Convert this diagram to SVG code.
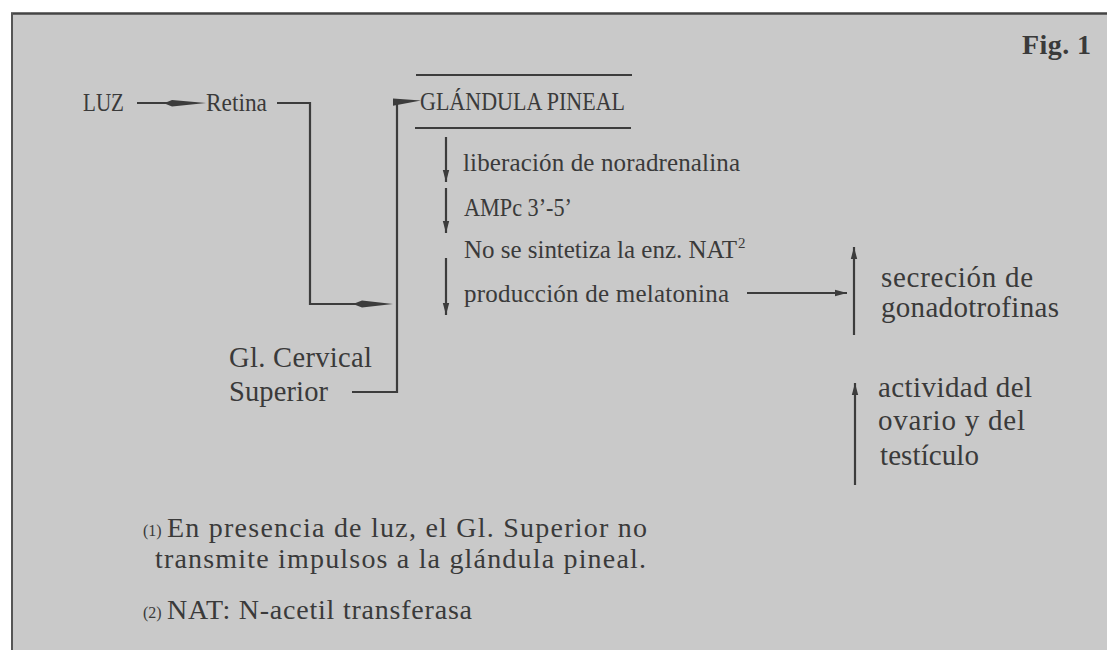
<svg xmlns="http://www.w3.org/2000/svg" width="1107" height="650" viewBox="0 0 1107 650">
<style>
text{font-family:"Liberation Serif","Times New Roman",serif;fill:#3a3a3a}
.m{font-size:25px}
.r{font-size:29px}
.l{font-size:28.5px}
.f{font-size:28px}
.s{font-size:16px}
.ln{stroke:#3c3c3c;stroke-width:2.2;fill:none}
.hd{fill:#3c3c3c}
</style>
<defs>
<marker id="ah" viewBox="0 0 12 8" refX="12" refY="4" markerWidth="12" markerHeight="8" markerUnits="userSpaceOnUse" orient="auto">
<path d="M0,0.8 L12,4 L0,7.2 Z" fill="#3c3c3c"/>
</marker>
</defs>
<rect x="0" y="0" width="1107" height="650" fill="#ffffff"/>
<rect x="12" y="13" width="1095" height="637" fill="#c9c9c9"/>
<line x1="11" y1="13.5" x2="1107" y2="13.5" stroke="#444" stroke-width="2.5"/>
<line x1="12" y1="13" x2="12" y2="650" stroke="#555" stroke-width="2"/>

<g id="fig-label"><text x="1022" y="54" style="font-size:28px;font-weight:bold" textLength="69">Fig. 1</text></g>

<g id="luz"><text class="m" x="83" y="111" textLength="41" lengthAdjust="spacingAndGlyphs">LUZ</text></g>
<g id="retina"><text class="m" x="206" y="111" textLength="61" lengthAdjust="spacingAndGlyphs">Retina</text></g>
<g id="glandula-pineal">
<line class="ln" x1="416" y1="75" x2="632" y2="75"/>
<text class="m" x="420" y="110" textLength="205" lengthAdjust="spacingAndGlyphs">GLÁNDULA PINEAL</text>
<line class="ln" x1="415" y1="128" x2="631" y2="128"/>
</g>
<g id="liberacion"><text class="m" x="463" y="171" textLength="277">liberación de noradrenalina</text></g>
<g id="ampc"><text class="m" x="464" y="216" textLength="108" lengthAdjust="spacingAndGlyphs">AMPc 3’-5’</text></g>
<g id="nat"><text class="m" x="464" y="258" textLength="273">No se sintetiza la enz. NAT</text><text x="738" y="248" style="font-size:15px">2</text></g>
<g id="melatonina"><text class="m" x="464" y="302" textLength="265">producción de melatonina</text></g>
<g id="gl-cervical">
<text class="l" x="229" y="367" textLength="143">Gl. Cervical</text>
<text class="l" x="229" y="401" textLength="99">Superior</text>
</g>
<g id="gonadotrofinas">
<text class="r" x="881" y="287" textLength="152">secreción de</text>
<text class="r" x="881" y="317" textLength="178">gonadotrofinas</text>
</g>
<g id="ovario">
<text class="r" x="878" y="397" textLength="154">actividad del</text>
<text class="r" x="878" y="430" textLength="147">ovario y del</text>
<text class="r" x="880" y="465" textLength="99">testículo</text>
</g>
<g id="notes">
<text class="s" x="143" y="536">(1)</text>
<text class="f" x="167" y="537" textLength="480">En presencia de luz, el Gl. Superior no</text>
<text class="f" x="155" y="568" textLength="491">transmite impulsos a la glándula pineal.</text>
<text class="s" x="143" y="618">(2)</text>
<text class="f" x="167" y="619" textLength="305">NAT: N-acetil transferasa</text>
</g>

<g id="connectors">
<line class="ln" x1="137" y1="103" x2="170" y2="103"/>
<polygon class="hd" points="164,103.3 172,100 206,103 172,106.6"/>
<polyline class="ln" points="277,103 310,103 310,304 356,304"/>
<polygon class="hd" points="353,304 362,300.5 393,304 362,307.6"/>
<polyline class="ln" points="352,392 397,392 397,101"/>
<polygon class="hd" points="393,98.5 421,100.5 393,105.8"/>
<line class="ln" x1="446" y1="137" x2="446" y2="182" marker-end="url(#ah)"/>
<line class="ln" x1="446" y1="188" x2="446" y2="233" marker-end="url(#ah)"/>
<line class="ln" x1="446" y1="258" x2="446" y2="315" marker-end="url(#ah)"/>
<line class="ln" x1="747" y1="293" x2="847" y2="293" marker-end="url(#ah)"/>
<line class="ln" x1="854" y1="335" x2="854" y2="247" marker-end="url(#ah)"/>
<line class="ln" x1="855" y1="485" x2="855" y2="383" marker-end="url(#ah)"/>
</g>
</svg>
